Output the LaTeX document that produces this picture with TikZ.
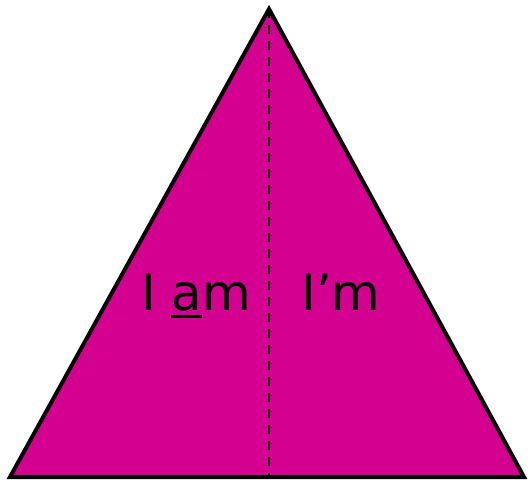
\documentclass[tikz,border=0pt]{standalone}
\usepackage{fontspec}
\setmainfont{DejaVu Sans}
\definecolor{mag}{HTML}{D4008F}
\newcommand\myulA{\leavevmode\rlap{\kern-1pt\rule[-7.5pt]{\dimexpr\fontcharwd\font`a+1pt\relax}{2.5pt}}a}
\begin{document}
\begin{tikzpicture}[x=1pt,y=-1pt,
  tri/.style={fill=mag,draw=black,line width=4pt,line join=miter},
  divline/.style={draw=black,line width=2pt,dash pattern=on 9pt off 7pt},
  lab/.style={font=\fontsize{50}{60}\selectfont,text=black,inner sep=0pt,anchor=base}]
\useasboundingbox (0,0) rectangle (531,483);
\coordinate (apex) at (269,9);
\coordinate (bl) at (10,477);
\coordinate (br) at (524,477);
\coordinate (base) at (269,475);
\draw[tri] (apex) -- (br) -- (bl) -- cycle;
\draw[divline] (apex) -- (base);
\node[lab] (iam) at (196,310) {I \myulA m};
\node[lab] (im) at (341,310) {I’m};
\end{tikzpicture}
\end{document}
